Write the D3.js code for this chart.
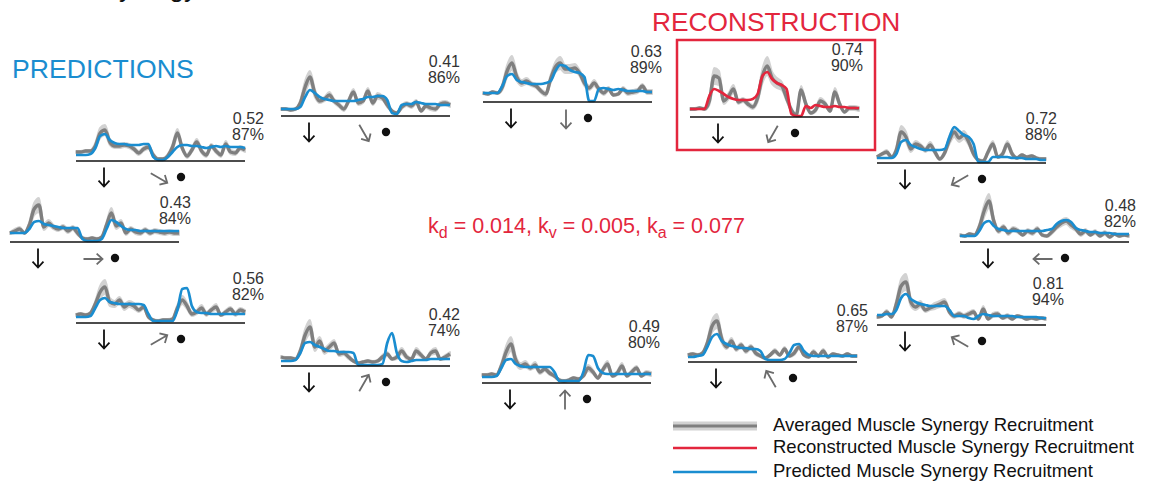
<!DOCTYPE html>
<html>
<head>
<meta charset="utf-8">
<script src="https://cdn.jsdelivr.net/npm/d3@7"></script>
<style>
  body { margin: 0; background: #fff; }
  svg { display: block; font-family: "Liberation Sans", Arial, sans-serif; }
</style>
</head>
<body>
<svg id="plot"></svg>
<script>
// reach directions (deg, counter-clockwise from right) and fit scores
const directions = [330, 300, 270, 240, 210, 180, 150, 120, 90, 60, 30, 0];
const r2Labels = ["0.52", "0.41", "0.63", "0.74", "0.72", "0.48", "0.81", "0.65", "0.49", "0.42", "0.56", "0.43"];
const vafLabels = ["87%", "86%", "89%", "90%", "88%", "82%", "94%", "87%", "80%", "74%", "82%", "84%"];
const reconDirection = 240;

// averaged recruitment (mean), its spread, and model traces, 36 samples each
const avg330 = [8,8,9,9,14,27,30,18,14,14,15,14,11,7,11,13,5,1,1,4,13,27,12,4,10,18,9,5,14,9,5,16,8,7,12,10];
const sd330 = [1,1,1,1,3,5,5,3,2,2,2,2,2,2,2,2,2,1,1,2,3,4,2,2,2,3,2,2,2,2,2,3,2,2,2,2];
const pred330 = [5,5,5,6,12,24,26,20,17,16,16,15,15,15,16,16,3,0,0,3,8,13,15,15,14,14,13,12,13,14,13,14,13,13,13,12];

const avg300 = [6,6,5,6,12,28,38,22,14,16,20,14,10,6,14,23,12,14,24,12,19,17,10,4,2,8,11,9,13,4,9,7,6,11,12,10];
const sd300 = [1,1,1,1,3,6,6,4,2,2,3,2,2,2,2,3,2,2,3,2,3,2,2,1,1,2,2,2,2,1,2,2,2,2,2,2];
const pred300 = [6,6,6,6,8,18,25,22,18,16,15,14,14,14,14,14,15,16,18,18,19,19,15,2,1,10,11,11,13,12,11,11,11,10,10,10];

const avg270 = [8,7,9,8,14,30,38,24,18,20,17,15,10,7,22,34,38,32,32,33,28,18,13,18,12,8,12,6,7,12,8,9,10,15,9,9];
const sd270 = [1,1,1,1,3,6,7,4,3,3,2,2,2,2,4,5,6,4,4,4,3,3,2,3,2,2,2,1,1,2,2,2,2,2,2,2];
const pred270 = [8,8,8,8,15,25,27,21,19,18,17,17,17,18,20,30,36,35,31,29,28,24,0,0,12,13,12,11,12,11,10,10,10,10,9,9];

const avg240 = [7,7,8,7,15,40,38,15,20,27,14,16,12,9,18,40,50,38,33,30,18,6,1,26,12,3,6,15,12,5,24,12,4,8,8,7];
const sd240 = [1,1,1,1,4,8,7,3,3,4,2,2,2,2,4,7,9,6,5,4,3,2,1,4,2,1,2,3,2,1,4,2,1,2,2,2];
const rec240 = [7,7,7,7,20,27,25,22,19,17,16,16,16,17,22,40,44,37,33,31,27,2,0,0,10,8,11,10,9,9,10,9,9,8,8,8];

const avg210 = [5,8,10,5,12,30,25,13,18,16,12,17,10,3,9,22,30,24,27,20,8,2,1,10,18,5,8,18,8,4,7,5,6,4,3,3];
const sd210 = [1,1,2,1,3,6,5,3,3,2,2,3,2,1,2,4,5,4,4,3,2,1,1,2,3,1,2,3,2,1,1,1,1,1,1,1];
const pred210 = [4,4,4,4,8,20,22,17,15,13,12,12,12,12,13,25,35,31,27,25,18,0,0,0,5,5,5,5,4,4,4,3,3,3,2,2];

const avg180 = [6,5,7,6,14,30,40,20,10,14,8,12,10,6,10,8,12,6,5,9,14,18,20,16,12,7,10,6,9,5,8,4,7,5,6,5];
const sd180 = [1,1,1,1,3,6,7,3,2,2,2,2,2,1,2,2,2,1,1,2,2,3,3,3,2,2,2,1,2,1,2,1,1,1,1,1];
const pred180 = [5,5,5,5,10,18,20,15,12,11,10,10,10,10,10,10,10,10,11,12,17,20,21,19,13,11,10,9,9,8,8,8,7,7,7,7];

const avg150 = [7,8,12,7,20,38,42,22,17,20,14,16,18,20,22,12,8,10,8,10,12,5,15,5,9,10,6,8,5,8,7,5,6,5,6,5];
const sd150 = [1,1,2,1,4,7,8,4,3,3,2,2,3,3,3,2,2,2,2,2,2,1,3,1,2,2,1,2,1,1,1,1,1,1,1,1];
const pred150 = [9,9,10,10,14,26,30,25,22,20,19,18,18,18,18,14,8,8,8,6,5,8,10,9,8,8,8,8,8,7,7,7,7,7,6,6];

const avg120 = [6,7,6,8,18,35,40,22,14,20,12,16,10,14,8,5,3,6,10,6,12,5,8,14,6,4,9,5,10,4,7,6,5,7,5,5];
const sd120 = [1,1,1,1,3,6,7,4,2,3,2,2,2,2,2,1,1,1,2,1,2,1,2,2,1,1,2,1,2,1,1,1,1,1,1,1];
const pred120 = [4,4,5,6,14,24,27,20,17,15,14,13,13,12,12,10,2,1,1,1,2,8,16,17,10,6,5,5,5,5,5,5,5,5,5,5];

const avg090 = [7,7,8,7,16,30,38,22,16,18,14,17,10,13,9,6,2,1,2,4,3,6,14,10,4,12,18,6,9,16,6,10,14,6,9,8];
const sd090 = [1,1,1,1,3,6,7,4,3,3,2,3,2,2,2,1,1,1,1,1,1,1,3,2,1,2,3,1,2,3,1,2,2,1,2,2];
const pred090 = [5,5,5,6,14,22,23,18,16,15,15,15,15,15,15,10,1,1,1,1,1,10,27,26,14,9,8,8,8,8,8,8,8,8,8,8];

const avg060 = [8,7,7,6,14,30,38,18,24,14,18,22,11,12,8,4,2,3,4,3,4,8,11,6,8,14,8,6,14,10,6,12,14,6,8,11];
const sd060 = [1,1,1,1,3,6,7,4,4,3,3,3,2,2,2,1,1,1,1,1,1,2,2,1,2,3,2,1,3,2,1,2,3,1,2,2];
const pred060 = [4,4,4,5,12,22,23,20,18,16,14,14,13,13,13,12,0,0,0,0,0,1,22,32,12,4,3,4,5,5,5,6,6,6,6,6];

const avg030 = [7,8,7,9,18,30,35,20,18,22,15,18,16,12,15,5,2,1,2,2,3,14,22,16,8,10,14,8,12,15,7,10,13,8,12,10];
const sd030 = [1,1,1,1,3,6,7,4,3,3,3,3,3,2,2,1,1,1,1,1,1,3,4,3,2,2,3,2,2,3,1,2,2,2,2,2];
const pred030 = [5,5,5,6,14,22,24,20,19,18,18,18,18,18,17,8,1,1,1,1,1,12,33,34,16,10,9,9,8,8,8,8,8,8,8,8];

const avg000 = [8,10,12,8,16,32,36,14,18,14,12,14,10,13,8,3,2,3,2,4,16,28,15,18,8,12,9,8,11,8,10,9,8,9,8,8];
const sd000 = [1,2,2,1,3,6,7,3,3,2,2,2,2,2,2,1,1,1,1,1,3,5,3,3,2,2,2,2,2,2,2,2,2,2,2,2];
const pred000 = [8,8,8,8,12,19,20,17,16,15,14,13,13,13,13,2,0,0,0,2,12,21,19,15,12,11,11,10,10,10,10,10,10,10,10,10];

const legendLabels = ["Averaged Muscle Synergy Recruitment", "Reconstructed Muscle Synergy Recruitment", "Predicted Muscle Synergy Recruitment"];

// lookup table built from the arrays above
const traces = {
  330: [avg330, sd330, pred330], 300: [avg300, sd300, pred300], 270: [avg270, sd270, pred270],
  240: [avg240, sd240, rec240], 210: [avg210, sd210, pred210], 180: [avg180, sd180, pred180],
  150: [avg150, sd150, pred150], 120: [avg120, sd120, pred120], 90: [avg090, sd090, pred090],
  60: [avg060, sd060, pred060], 30: [avg030, sd030, pred030], 0: [avg000, sd000, pred000]
};

// panel layout (left edge, baseline, label anchor)
const layout = [
  { x: 76, y: 161, tx: 264, ty: 124 },
  { x: 281, y: 116, tx: 460, ty: 67 },
  { x: 483, y: 102, tx: 662, ty: 57 },
  { x: 690, y: 117, tx: 863, ty: 55 },
  { x: 877, y: 163, tx: 1057, ty: 124 },
  { x: 960, y: 242, tx: 1136, ty: 211 },
  { x: 877, y: 325, tx: 1064, ty: 289 },
  { x: 688, y: 362, tx: 868, ty: 316 },
  { x: 482, y: 383, tx: 660, ty: 332 },
  { x: 281, y: 366, tx: 460, ty: 320 },
  { x: 76, y: 323, tx: 264, ty: 284 },
  { x: 10, y: 242, tx: 191, ty: 208 }
];

const W = 1155, H = 483;
const panelW = 169, panelH = 40;
const blue = "#1a8dd0", red = "#e3263d", grayLine = "#7f7f7f", grayBand = "#d2d2d2";

const svg = d3.select("#plot").attr("width", W).attr("height", H);

// title clipped by the top edge
svg.append("text").attr("x", 12).attr("y", -3)
  .attr("font-size", 26).attr("fill", "#111")
  .text("Muscle Synergy Recruitment");

svg.append("text").attr("x", 12).attr("y", 78)
  .attr("font-size", 26.6).attr("fill", blue).text("PREDICTIONS");
svg.append("text").attr("x", 652).attr("y", 31)
  .attr("font-size", 26.3).attr("fill", red).text("RECONSTRUCTION");

const kText = svg.append("text").attr("x", 428).attr("y", 233)
  .attr("font-size", 21.5).attr("fill", red);
[["k", "d", " = 0.014, "], ["k", "v", " = 0.005, "], ["k", "a", " = 0.077"]].forEach(([k, s, rest]) => {
  kText.append("tspan").text(k);
  kText.append("tspan").attr("dy", 5).attr("font-size", 16).text(s);
  kText.append("tspan").attr("dy", -5).text(rest);
});

function arrowPath(cx, cy, deg, len, head) {
  const a = deg * Math.PI / 180;
  const dx = Math.cos(a), dy = -Math.sin(a);
  const x2 = cx + dx * len / 2, y2 = cy + dy * len / 2;
  const ang = Math.atan2(dy, dx);
  const p = d3.path();
  p.moveTo(cx - dx * len / 2, cy - dy * len / 2);
  p.lineTo(x2, y2);
  p.moveTo(x2 - head * Math.cos(ang - 0.75), y2 - head * Math.sin(ang - 0.75));
  p.lineTo(x2, y2);
  p.lineTo(x2 - head * Math.cos(ang + 0.75), y2 - head * Math.sin(ang + 0.75));
  return p.toString();
}

directions.forEach((dir, k) => {
  const L = layout[k];
  const [avg, sd, model] = traces[dir];
  const isRecon = dir === reconDirection;
  const x = d3.scaleLinear().domain([0, avg.length - 1]).range([L.x, L.x + panelW]);
  const y = d3.scaleLinear().domain([0, panelH]).range([L.y - 1, L.y - 1 - panelH]);
  const g = svg.append("g");

  if (isRecon) {
    g.append("rect").attr("x", 677).attr("y", 40).attr("width", 198).attr("height", 110)
      .attr("fill", "none").attr("stroke", red).attr("stroke-width", 2.5);
  }

  const band = d3.area()
    .x((d, i) => x(i))
    .y0((d, i) => y(Math.max(0, d - sd[i])))
    .y1((d, i) => y(d + sd[i]))
    .curve(d3.curveMonotoneX);
  g.append("path").datum(avg).attr("d", band)
    .attr("fill", grayBand).attr("stroke", grayBand).attr("stroke-width", 2).attr("stroke-linejoin", "round");

  const line = d3.line().x((d, i) => x(i)).y(d => y(d)).curve(d3.curveMonotoneX);
  g.append("path").datum(avg).attr("d", line)
    .attr("fill", "none").attr("stroke", grayLine).attr("stroke-width", 3.4).attr("stroke-linejoin", "round");
  g.append("path").datum(model).attr("d", line)
    .attr("fill", "none").attr("stroke", isRecon ? red : blue).attr("stroke-width", 2.7)
    .attr("stroke-linejoin", "round");

  g.append("line").attr("x1", L.x).attr("x2", L.x + panelW).attr("y1", L.y).attr("y2", L.y)
    .attr("stroke", "#111").attr("stroke-width", 1.4);

  // movement onset (down) and perturbation direction arrows
  g.append("path").attr("d", arrowPath(L.x + 28, L.y + 16, 270, 19, 8))
    .attr("fill", "none").attr("stroke", "#111").attr("stroke-width", 1.8);
  g.append("path").attr("d", arrowPath(L.x + 83, L.y + 17, dir, 19, 8))
    .attr("fill", "none").attr("stroke", "#6b6b6b").attr("stroke-width", 1.8);
  g.append("circle").attr("cx", L.x + 105).attr("cy", L.y + 16).attr("r", 4.2).attr("fill", "#111");

  g.append("text").attr("x", L.tx).attr("y", L.ty).attr("text-anchor", "end")
    .attr("font-size", 16).attr("fill", "#333").text(r2Labels[k]);
  g.append("text").attr("x", L.tx).attr("y", L.ty + 16).attr("text-anchor", "end")
    .attr("font-size", 16).attr("fill", "#333").text(vafLabels[k]);
});

// legend
const leg = svg.append("g");
const legY = [426, 448, 472];
leg.append("line").attr("x1", 673).attr("x2", 757).attr("y1", legY[0]).attr("y2", legY[0])
  .attr("stroke", grayBand).attr("stroke-width", 9);
leg.append("line").attr("x1", 673).attr("x2", 757).attr("y1", legY[0]).attr("y2", legY[0])
  .attr("stroke", grayLine).attr("stroke-width", 3);
leg.append("line").attr("x1", 673).attr("x2", 757).attr("y1", legY[1]).attr("y2", legY[1])
  .attr("stroke", red).attr("stroke-width", 2.5);
leg.append("line").attr("x1", 673).attr("x2", 757).attr("y1", legY[2]).attr("y2", legY[2])
  .attr("stroke", blue).attr("stroke-width", 2.5);
leg.selectAll("text.lg").data(legendLabels).join("text")
  .attr("class", "lg")
  .attr("x", 773).attr("y", (d, i) => legY[i] + 5)
  .attr("font-size", 18.5).attr("fill", "#111").text(d => d);
</script>
</body>
</html>
